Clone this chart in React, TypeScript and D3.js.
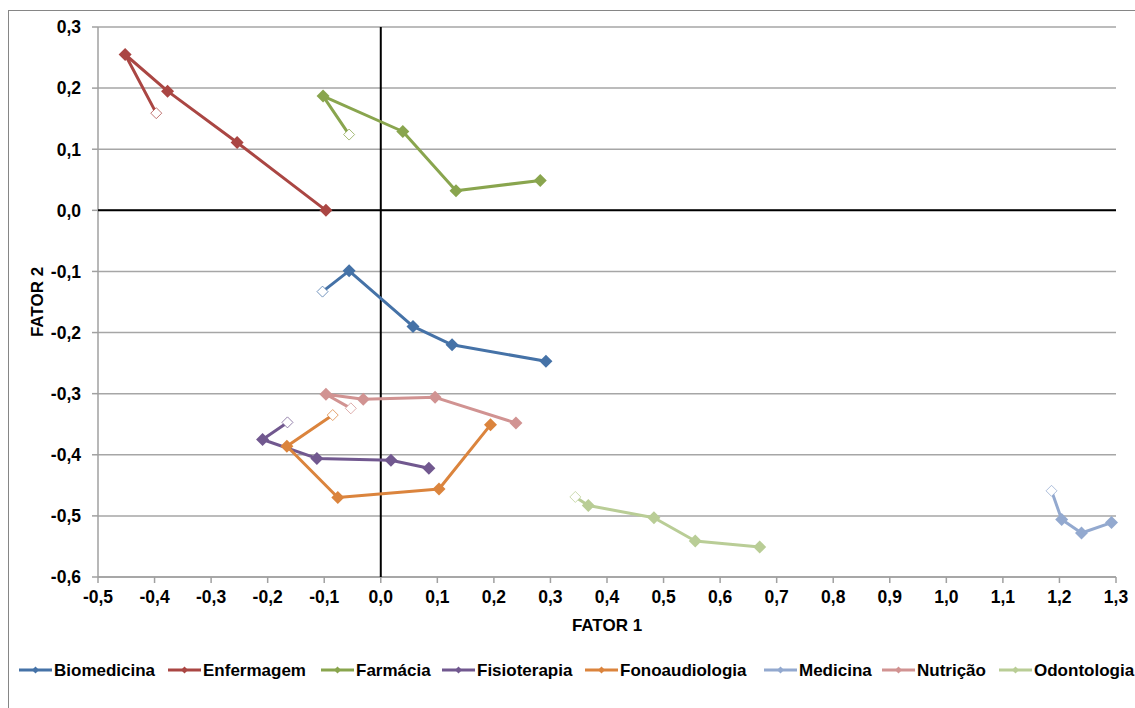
import React from "react";
import * as d3 from "d3";

// Data: first point of each series is the hollow (initial) marker
const seriesNames = ["Biomedicina", "Enfermagem", "Farmácia", "Fisioterapia", "Fonoaudiologia", "Medicina", "Nutrição", "Odontologia"];
const seriesColors = ["#4572A7", "#AA4643", "#89A54E", "#71588F", "#DB843D", "#93A9CF", "#D19392", "#B9CD96"];

const biomedicina: [number, number][] = [[-0.103, -0.133], [-0.056, -0.099], [0.057, -0.190], [0.126, -0.220], [0.292, -0.247]];
const enfermagem: [number, number][] = [[-0.397, 0.159], [-0.452, 0.255], [-0.377, 0.195], [-0.254, 0.111], [-0.097, 0.0]];
const farmacia: [number, number][] = [[-0.056, 0.124], [-0.102, 0.187], [0.039, 0.129], [0.133, 0.032], [0.282, 0.049]];
const fisioterapia: [number, number][] = [[-0.165, -0.347], [-0.209, -0.375], [-0.113, -0.406], [0.018, -0.409], [0.085, -0.422]];
const fonoaudiologia: [number, number][] = [[-0.085, -0.335], [-0.166, -0.386], [-0.076, -0.470], [0.103, -0.456], [0.194, -0.351]];
const medicina: [number, number][] = [[1.186, -0.459], [1.204, -0.506], [1.239, -0.528], [1.292, -0.511]];
const nutricao: [number, number][] = [[-0.053, -0.324], [-0.097, -0.301], [-0.031, -0.309], [0.096, -0.306], [0.239, -0.348]];
const odontologia: [number, number][] = [[0.344, -0.469], [0.367, -0.483], [0.483, -0.503], [0.556, -0.541], [0.670, -0.551]];

const seriesData = [biomedicina, enfermagem, farmacia, fisioterapia, fonoaudiologia, medicina, nutricao, odontologia];

const xTicks = d3.range(-5, 14).map((d) => d / 10);
const yTicks = d3.range(-6, 4).map((d) => d / 10);
const xTitle = "FATOR 1";
const yTitle = "FATOR 2";

// legend text start positions (layout)
const legendTextX = [54, 203, 356, 477, 620, 799, 917, 1034];

const FONT = "'Liberation Sans', Arial, sans-serif";

function fmt(v: number): string {
  const r = Math.round(v * 10) / 10;
  const s = Math.abs(r).toFixed(1).replace(".", ",");
  return (r < 0 ? "-" : "") + s;
}

function diamond(cx: number, cy: number, r: number): string {
  return `M${cx},${cy - r}L${cx + r},${cy}L${cx},${cy + r}L${cx - r},${cy}Z`;
}

export default function App() {
  const W = 1135, H = 708;
  const x = d3.scaleLinear().domain([-0.5, 1.3]).range([98, 1116]);
  const y = d3.scaleLinear().domain([-0.6, 0.3]).range([577, 27]);
  const line = d3.line<[number, number]>().x((d) => x(d[0])).y((d) => y(d[1]));
  const legendY = 670;

  return (
    <svg width={W} height={H} style={{ position: "absolute", left: 0, top: 0, display: "block", background: "#fff" }} fontFamily={FONT}>
      <rect x={8.5} y={10.5} width={1140} height={720} fill="#fff" stroke="#868686" strokeWidth={1} />
      {/* gridlines */}
      {yTicks.map((t) => (
        <line key={"g" + t} x1={98} x2={1116} y1={y(t)} y2={y(t)} stroke="#A6A6A6" strokeWidth={1.5} />
      ))}
      {/* plot left & bottom axis lines */}
      <line x1={98} x2={98} y1={27} y2={577} stroke="#A0A0A0" strokeWidth={1.5} />
      <line x1={98} x2={1116} y1={577} y2={577} stroke="#A0A0A0" strokeWidth={1.5} />
      {/* tick marks */}
      {yTicks.map((t) => (
        <line key={"yt" + t} x1={92} x2={98} y1={y(t)} y2={y(t)} stroke="#A0A0A0" strokeWidth={1.5} />
      ))}
      {xTicks.map((t) => (
        <line key={"xt" + t} x1={x(t)} x2={x(t)} y1={577} y2={583} stroke="#A0A0A0" strokeWidth={1.5} />
      ))}
      {/* tick labels */}
      {yTicks.map((t) => (
        <text key={"yl" + t} x={81} y={y(t)} dy="0.36em" textAnchor="end" fontSize={17.5} fontWeight="bold" fill="#000">
          {fmt(t)}
        </text>
      ))}
      {xTicks.map((t) => (
        <text key={"xl" + t} x={x(t)} y={603} textAnchor="middle" fontSize={17.5} fontWeight="bold" fill="#000">
          {fmt(t)}
        </text>
      ))}
      {/* axis titles */}
      <text x={607} y={631} textAnchor="middle" fontSize={17} fontWeight="bold">{xTitle}</text>
      <text transform={`translate(43,302) rotate(-90)`} textAnchor="middle" fontSize={17} fontWeight="bold">{yTitle}</text>
      {/* zero axes */}
      <line x1={98} x2={1116} y1={y(0)} y2={y(0)} stroke="#000" strokeWidth={2} />
      <line x1={x(0)} x2={x(0)} y1={27} y2={577} stroke="#000" strokeWidth={2} />
      {/* series */}
      {seriesData.map((pts, i) => (
        <g key={"s" + i}>
          <path d={line(pts) || ""} fill="none" stroke={seriesColors[i]} strokeWidth={3} strokeLinejoin="round" />
          {pts.map((p, j) =>
            j === 0 ? (
              <path key={j} d={diamond(x(p[0]), y(p[1]), 5.5)} fill="#fff" stroke={seriesColors[i]} strokeWidth={1} strokeOpacity={0.75} />
            ) : (
              <path key={j} d={diamond(x(p[0]), y(p[1]), 6.5)} fill={seriesColors[i]} stroke="none" />
            )
          )}
        </g>
      ))}
      {/* legend */}
      {seriesNames.map((name, i) => {
        const tx = legendTextX[i];
        const lx = tx - 35;
        return (
          <g key={"lg" + name}>
            <line x1={lx} x2={lx + 33} y1={legendY} y2={legendY} stroke={seriesColors[i]} strokeWidth={3} />
            <path d={diamond(lx + 16.5, legendY, 3.5)} fill={seriesColors[i]} />
            <text x={tx} y={legendY} dy="0.36em" fontSize={17} fontWeight="bold" fill="#000">
              {name}
            </text>
          </g>
        );
      })}
    </svg>
  );
}
